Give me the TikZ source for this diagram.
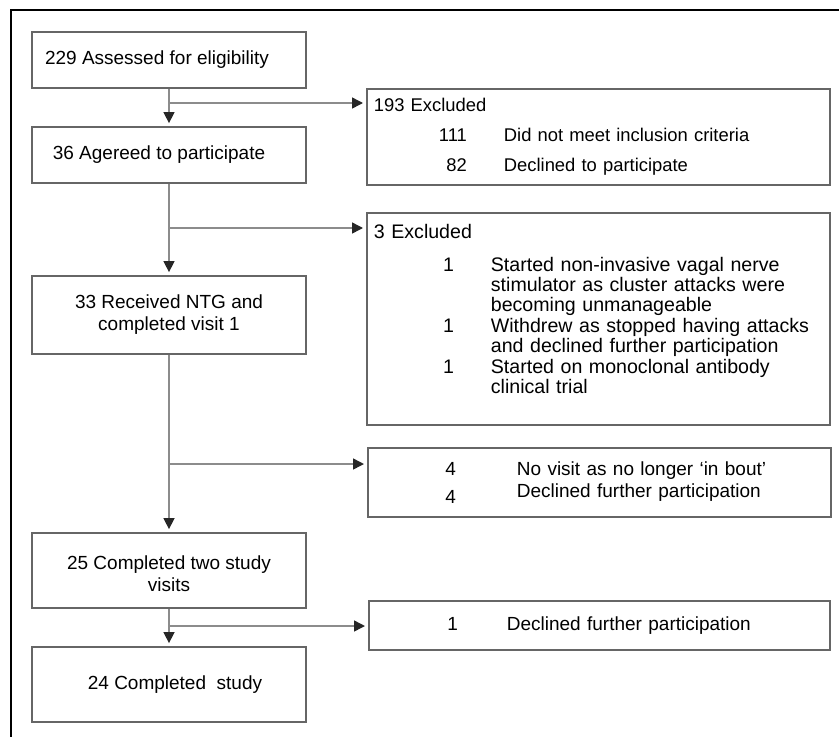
\documentclass[tikz,border=0pt]{standalone}
\usepackage{fontspec}
\setmainfont{Liberation Sans}
\usetikzlibrary{arrows.meta, positioning}

\begin{document}
\begin{tikzpicture}[x=1pt, y=-1pt,
    font=\fontsize{19}{22}\selectfont,
    stagebox/.style={shape=rectangle, draw=black!60, line width=1.8pt, minimum width=274, align=center, inner sep=0pt},
    exbox/.style={shape=rectangle, draw=black!60, line width=1.8pt, anchor=north west, align=left, inner xsep=7pt, inner ysep=0pt},
    flow/.style={draw=black!45, line width=1.5pt, -{Triangle[length=11pt, width=11pt, color=black!85]}, shorten >=3pt}]
    \useasboundingbox (0,0) rectangle (839,737);
    \draw[line width=2.5pt] (839,10) -- (11,10) -- (11,737);

    % main column
    \node[stagebox, minimum height=56] (assess) at (169,60) {229 Assessed for eligibility\hspace*{24pt}};
    \node[stagebox, minimum height=56] (agree) at (169,155) {36 Agereed to participate\hspace*{20pt}};
    \node[stagebox, minimum height=78] (recv) at (169,315) {33 Received NTG and\\completed visit 1};
    \node[stagebox, minimum height=75] (twovis) at (169,570.5) {\rule{0pt}{21pt}25 Completed two study\\visits};
    \node[stagebox, minimum height=75] (done) at (169,684.5) {\hspace*{12pt}24 Completed\ \ study};

    % exclusions
    \node[exbox, minimum width=463, minimum height=96, text width=449, font=\fontsize{18.4}{21}\selectfont] (ex1) at (366,88) {193 Excluded\\[9pt]
      \makebox[93pt][r]{111}\hspace{37pt}Did not meet inclusion criteria\\[9pt]
      \makebox[93pt][r]{82}\hspace{37pt}Declined to participate};
    \node[exbox, minimum width=463, minimum height=212, text width=449, font=\fontsize{19.6}{20}\selectfont] (ex2) at (366,212) {3 Excluded\\[13pt]
      \makebox[80pt][r]{1}\hspace{37pt}Started non-invasive vagal nerve\\
      \hspace*{117pt}stimulator as cluster attacks were\\
      \hspace*{117pt}becoming unmanageable\\[1pt]
      \makebox[80pt][r]{1}\hspace{37pt}Withdrew as stopped having attacks\\
      \hspace*{117pt}and declined further participation\\[1pt]
      \makebox[80pt][r]{1}\hspace{37pt}Started on monoclonal antibody\\
      \hspace*{117pt}clinical trial\rule[-21pt]{0pt}{1pt}};
    \node[exbox, minimum width=463, minimum height=69, text width=449] (ex3) at (367,447) {\makebox[81pt][r]{4}\hspace{61pt}No visit as no longer ‘in bout’\\
      \makebox[81pt][r]{\raisebox{-6pt}{4}}\hspace{61pt}Declined further participation};
    \node[exbox, minimum width=461, minimum height=49, text width=447] (ex4) at (368,600) {\makebox[82pt][r]{1}\hspace{49pt}Declined further participation};

    \coordinate (br1) at (169,103);
    \coordinate (br2) at (169,228);
    \coordinate (br3) at (169,464);
    \coordinate (br4) at (169,626);

    \draw[flow] (assess) -- (agree);
    \draw[flow] (br1) -- (br1 -| ex1.west);
    \draw[flow] (agree) -- (recv);
    \draw[flow] (br2) -- (br2 -| ex2.west);
    \draw[flow] (recv) -- (twovis);
    \draw[flow] (br3) -- (br3 -| ex3.west);
    \draw[flow] (twovis) -- (done);
    \draw[flow] (br4) -- (br4 -| ex4.west);
\end{tikzpicture}
\end{document}
